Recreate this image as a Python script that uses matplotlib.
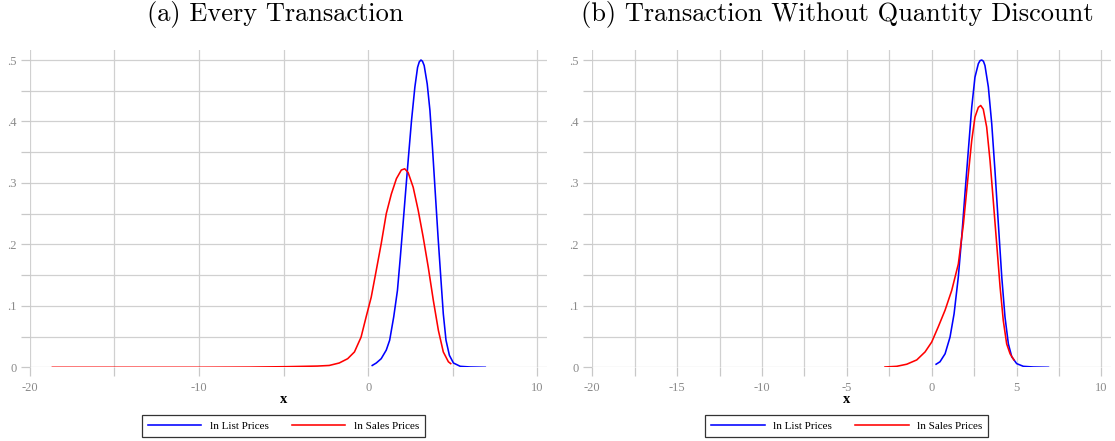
import matplotlib
matplotlib.use("Agg")
import matplotlib.pyplot as plt
from matplotlib.ticker import FixedLocator, NullFormatter, FixedFormatter
from matplotlib.lines import Line2D

# ---- data ----
titles = ["(a) Every Transaction", "(b) Transaction Without Quantity Discount"]
series_names = ["ln List Prices", "ln Sales Prices"]

a_list_x = [0.24, 0.48, 0.77, 1.07, 1.27, 1.51, 1.73, 1.9, 2.06, 2.22, 2.38, 2.56, 2.76, 2.92, 3.02, 3.12,
            3.21, 3.31, 3.49, 3.65, 3.81, 3.97, 4.13, 4.29, 4.44, 4.6, 4.8, 5.04, 5.44, 6.03, 6.92]
a_list_y = [0.003, 0.007, 0.014, 0.028, 0.044, 0.082, 0.125, 0.179, 0.233, 0.288, 0.342, 0.401, 0.456, 0.488, 0.497, 0.5,
            0.498, 0.491, 0.461, 0.418, 0.353, 0.282, 0.212, 0.147, 0.087, 0.044, 0.0195, 0.007, 0.0016, 0.0005, 0.0]
a_sale_x = [-18.66, -15.0, -10.0, -7.0, -4.85, -3.0, -2.3, -1.71, -1.21, -0.81, -0.42, -0.12, 0.18, 0.48, 0.77,
            1.07, 1.37, 1.67, 1.96, 2.16, 2.36, 2.66, 2.96, 3.25, 3.55, 3.85, 4.15, 4.44, 4.74, 4.88]
a_sale_y = [0.0, 0.0, 0.0, 0.0003, 0.001, 0.002, 0.003, 0.007, 0.014, 0.025, 0.049, 0.082, 0.114, 0.158, 0.201,
            0.25, 0.282, 0.307, 0.321, 0.323, 0.317, 0.293, 0.255, 0.212, 0.163, 0.109, 0.06, 0.025, 0.009, 0.006]

b_list_x = [0.26, 0.49, 0.79, 1.08, 1.32, 1.57, 1.77, 1.96, 2.16, 2.36, 2.55, 2.75, 2.85, 2.95, 3.05, 3.14, 3.34, 3.54,
            3.73, 3.93, 4.13, 4.32, 4.52, 4.72, 5.01, 5.4, 5.99, 6.88]
b_list_y = [0.005, 0.009, 0.022, 0.049, 0.087, 0.147, 0.212, 0.282, 0.353, 0.423, 0.472, 0.494, 0.499, 0.5, 0.498, 0.491, 0.456, 0.396,
            0.32, 0.233, 0.147, 0.082, 0.038, 0.017, 0.006, 0.0016, 0.0005, 0.0]
b_sale_x = [-2.75, -2.06, -1.47, -0.88, -0.39, 0.0, 0.39, 0.79, 1.18, 1.57, 1.87, 2.1, 2.36, 2.55, 2.75, 2.89,
            3.04, 3.24, 3.44, 3.63, 3.83, 4.03, 4.22, 4.42, 4.62, 4.85]
b_sale_y = [0.0005, 0.0016, 0.005, 0.012, 0.025, 0.041, 0.066, 0.093, 0.125, 0.168, 0.233, 0.298, 0.369, 0.407, 0.423, 0.426,
            0.42, 0.391, 0.336, 0.271, 0.201, 0.131, 0.076, 0.038, 0.022, 0.012]

y_ticks = [0, 0.1, 0.2, 0.3, 0.4, 0.5]
y_labels = ["0", ".1", ".2", ".3", ".4", ".5"]
y_grid = [0.05, 0.15, 0.25, 0.35, 0.45]
a_xticks = [-20, -10, 0, 10]
a_xlabels = ["-20", "-10", "0", "10"]
a_xgrid = [-15, -5, 5]
b_xticks = [-20, -15, -10, -5, 0, 5, 10]
b_xlabels = ["-20", "-15", "-10", "-5", "0", "5", "10"]
b_xgrid = [-17.5, -12.5, -7.5, -2.5, 2.5, 7.5]

W, H = 1115, 441
fig = plt.figure(figsize=(W / 100, H / 100), dpi=100)

serif = ["Liberation Serif", "DejaVu Serif"]
gridc = "#d0d0d0"
tickc = "#c8c8c8"
labc = "#8a8a8a"

panels = [
    dict(left=29.7, right=546.7, xt=a_xticks, xl=a_xlabels, xg=a_xgrid,
         data=[(a_list_x, a_list_y), (a_sale_x, a_sale_y)], title_x=275, title=titles[0]),
    dict(left=592.3, right=1110.7, xt=b_xticks, xl=b_xlabels, xg=b_xgrid,
         data=[(b_list_x, b_list_y), (b_sale_x, b_sale_y)], title_x=837, title=titles[1]),
]
top_px, bot_px = 50, 367.3
colors = ["#0000ff", "#ff0000"]

for p in panels:
    ax = fig.add_axes([p["left"] / W, 1 - bot_px / H, (p["right"] - p["left"]) / W, (bot_px - top_px) / H])
    for (xs, ys), c, n in zip(p["data"], colors, series_names):
        ax.plot(xs, ys, color=c, lw=1.15, label=n, zorder=3, solid_joinstyle="round")
    ax.set_xlim(-20, 10.55)
    ax.set_ylim(0, 0.5163)
    for s in ax.spines.values():
        s.set_visible(False)
    ax.xaxis.set_major_locator(FixedLocator(p["xt"]))
    ax.xaxis.set_major_formatter(FixedFormatter(p["xl"]))
    ax.xaxis.set_minor_locator(FixedLocator(p["xg"]))
    ax.xaxis.set_minor_formatter(NullFormatter())
    ax.yaxis.set_major_locator(FixedLocator(y_ticks))
    ax.yaxis.set_major_formatter(FixedFormatter(y_labels))
    ax.yaxis.set_minor_locator(FixedLocator(y_grid))
    ax.yaxis.set_minor_formatter(NullFormatter())
    ax.grid(True, which="both", color=gridc, lw=0.9, zorder=0)
    ax.set_axisbelow(True)
    ax.tick_params(which="both", direction="out", length=6.5, width=0.9, color=tickc,
                   labelcolor=labc, labelsize=9)
    ax.tick_params(axis="x", pad=4)
    ax.tick_params(axis="y", pad=3)
    for lab in ax.get_xticklabels() + ax.get_yticklabels():
        lab.set_family(serif)
    ax.text(-5, -0.053, "x", transform=ax.transData, ha="center", va="center",
            fontsize=10.5, fontweight="bold", family=serif, color="black")
    handles = [Line2D([], [], color=c, lw=1.15) for c in colors]
    cx = (p["left"] + (-5 + 20) / 30.55 * (p["right"] - p["left"])) / W
    leg = fig.legend(handles, series_names, loc="center", bbox_to_anchor=(cx, 1 - 425.7 / H),
                     ncol=2, frameon=True, fancybox=False, shadow=False,
                     prop={"family": serif, "size": 8}, handlelength=4.8, handletextpad=0.75,
                     columnspacing=2.1, borderpad=0.55, borderaxespad=0)
    leg.get_frame().set_edgecolor("black")
    leg.get_frame().set_linewidth(0.9)
    fig.text(p["title_x"] / W, 1 - 15 / H, p["title"], ha="center", va="center",
             fontsize=19, family=["cmr10", "DejaVu Serif"])

fig.savefig("out.png", dpi=100)
